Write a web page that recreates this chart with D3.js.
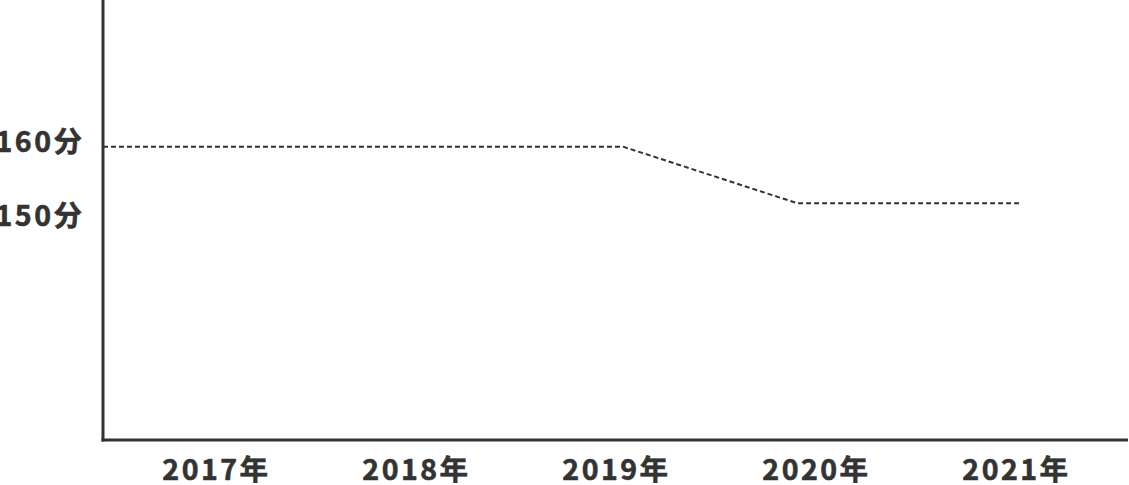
<!DOCTYPE html>
<html>
<head>
<meta charset="utf-8">
<script src="https://cdn.jsdelivr.net/npm/d3@7"></script>
<style>
  body { margin: 0; background: #fff; }
  text { font-family: "Noto Sans CJK SC", "Noto Sans", sans-serif; font-weight: 700; fill: #333; stroke: #333; stroke-width: 0.6px; }
</style>
</head>
<body>
<svg id="chart" width="1129" height="485"></svg>
<script>
// tick labels
const years = [2017, 2018, 2019, 2020, 2021];
const yearLabels = ['2017年', '2018年', '2019年', '2020年', '2021年'];
const scoreTicks = [160, 150];
const scoreLabels = ['160分', '150分'];

// line: fractional year position and score
const lineYears = [2016.44, 2019.04, 2019.91, 2021.025];
const lineScores = [160, 160, 152.3, 152.3];

const svg = d3.select('#chart');

const x = d3.scaleLinear()
    .domain([2016.44, 2021.565])
    .range([103, 1128]);

const y = d3.scaleLinear()
    .domain([120, 180])
    .range([440, 0]);

// axes
svg.append('line')
    .attr('x1', x(2016.44)).attr('x2', x(2016.44))
    .attr('y1', y(180)).attr('y2', y(120) + 1.5)
    .attr('stroke', '#333').attr('stroke-width', 3);

svg.append('line')
    .attr('x1', x(2016.44) - 1.5).attr('x2', x(2021.565))
    .attr('y1', y(120)).attr('y2', y(120))
    .attr('stroke', '#333').attr('stroke-width', 3);

// x labels
svg.selectAll('text.year')
    .data(years)
    .enter()
    .append('text')
    .attr('class', 'year')
    .attr('x', d => x(d) + 1.5)
    .attr('y', 480)
    .attr('text-anchor', 'middle')
    .style('font-size', '28.5px')
    .style('letter-spacing', '2.5px')
    .text((d, i) => yearLabels[i]);

// y labels
svg.selectAll('text.score')
    .data(scoreTicks)
    .enter()
    .append('text')
    .attr('class', 'score')
    .attr('x', 84.5)
    .attr('y', d => y(d) + 5.5)
    .attr('text-anchor', 'end')
    .style('font-size', '28.5px')
    .style('letter-spacing', '2.5px')
    .text((d, i) => scoreLabels[i]);

// line
const line = d3.line()
    .x(d => x(d[0]))
    .y(d => y(d[1]));

svg.append('path')
    .datum(lineYears.map((d, i) => [d, lineScores[i]]))
    .attr('d', line)
    .attr('fill', 'none')
    .attr('stroke', '#333')
    .attr('stroke-width', 2)
    .attr('stroke-dasharray', '5,3');
</script>
</body>
</html>
